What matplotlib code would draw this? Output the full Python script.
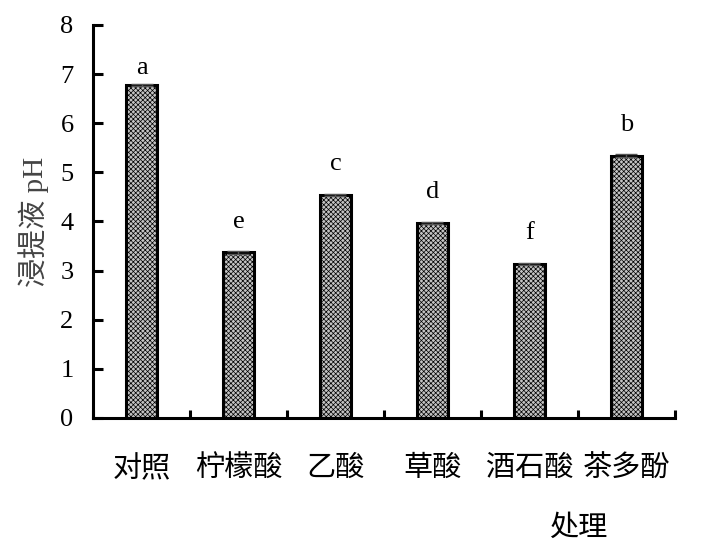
import matplotlib
matplotlib.use("Agg")
import matplotlib.pyplot as plt
import numpy as np

plt.rcParams['font.family'] = ['Liberation Serif', 'Noto Sans CJK SC', 'DejaVu Sans']
plt.rcParams['hatch.color'] = '#6a6a6a'
plt.rcParams['hatch.linewidth'] = 0.5

# 数据
categories = ["对照", "柠檬酸", "乙酸", "草酸", "酒石酸", "茶多酚"]
ph_values = [6.78, 3.37, 4.54, 3.97, 3.14, 5.34]
ph_err = [0.02, 0.03, 0.02, 0.02, 0.02, 0.03]
letters = ["a", "e", "c", "d", "f", "b"]
# 字母标注离柱顶的距离（pt），对照组的 a 放得更低
letter_gap = [4, 14, 14, 14, 14, 14]

fig = plt.figure(figsize=(7.05, 5.55), dpi=100)
ax = fig.add_axes([0.132, 0.247, 0.825, 0.708])

x = np.arange(len(categories))
ax.bar(x, ph_values, width=0.32, color='#c4c4c4', edgecolor='black',
       linewidth=2.2, hatch='xxxxxxx', zorder=2)
ax.errorbar(x, ph_values, yerr=ph_err, fmt='none', ecolor='#555555',
            elinewidth=1, capsize=8, capthick=1, zorder=3)

for xi, v, lab, g in zip(x, ph_values, letters, letter_gap):
    ax.annotate(lab, (xi, v), xytext=(0, g), textcoords='offset points',
                ha='center', va='bottom', fontsize=19)

ax.set_xlim(-0.5, len(categories) - 0.5)
ax.set_ylim(0, 8)
ax.set_yticks(range(0, 9))

ax.set_xticks(x)
ax.set_xticklabels(categories, fontsize=21)
ax.set_xticks(np.arange(-0.5, len(categories)), minor=True)
ax.tick_params(axis='x', which='major', length=0, pad=27)
ax.tick_params(axis='x', which='minor', direction='in', length=6, width=2.2)
ax.tick_params(axis='y', direction='in', length=7, width=2.2, labelsize=19, pad=14)

for side in ['top', 'right']:
    ax.spines[side].set_visible(False)
for side in ['left', 'bottom']:
    ax.spines[side].set_linewidth(2.2)

ax.set_ylabel("浸提液 pH", fontsize=21, color='#444444', labelpad=8)
fig.text(0.82, 0.048, "处理", fontsize=21, ha='center', va='center')

fig.savefig("out.png", dpi=100)
